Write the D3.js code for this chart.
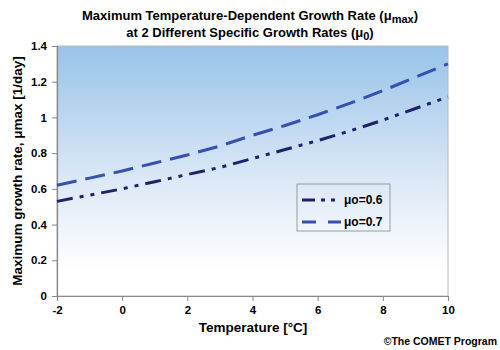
<!DOCTYPE html>
<html><head><meta charset="utf-8">
<script src="https://cdn.jsdelivr.net/npm/d3@7"></script>
<style>body{margin:0;background:#fff}svg{display:block;font-family:"Liberation Sans",Arial,sans-serif;font-weight:bold}</style>
</head><body>
<script>
const temps = [-2,-1,0,1,2,3,4,5,6,7,8,9,10];
const mu06 = [0.53,0.565,0.60,0.64,0.68,0.72,0.77,0.82,0.87,0.925,0.985,1.05,1.115];
const mu07 = [0.62,0.66,0.70,0.745,0.79,0.84,0.90,0.955,1.015,1.08,1.15,1.225,1.30];
const seriesNames = ["μo=0.6","μo=0.7"];
const xTicks = [-2,0,2,4,6,8,10];
const yTicks = [0,0.2,0.4,0.6,0.8,1,1.2,1.4];

const W=500,H=350, L=57, R=448, T=46, B=296;
const svg=d3.select("body").append("svg").attr("width",W).attr("height",H);
const x=d3.scaleLinear().domain([-2,10]).range([L,R]);
const y=d3.scaleLinear().domain([0,1.4]).range([B,T]);

const defs=svg.append("defs");
const g=defs.append("linearGradient").attr("id","bg").attr("x1",0).attr("y1",0).attr("x2",0).attr("y2",1);
g.append("stop").attr("offset","0%").attr("stop-color","#98c3e9");
g.append("stop").attr("offset","55%").attr("stop-color","#dde9f7");
g.append("stop").attr("offset","90%").attr("stop-color","#ffffff");
g.append("stop").attr("offset","100%").attr("stop-color","#ffffff");
svg.append("rect").attr("x",L).attr("y",T).attr("width",R-L).attr("height",B-T).attr("fill","url(#bg)").attr("stroke","#b8b8b8").attr("stroke-width",1);

const xa=svg.append("g").attr("transform",`translate(0,${B})`).call(d3.axisBottom(x).tickValues(xTicks).tickSize(5).tickPadding(5).tickFormat(d=>String(d)));
const ya=svg.append("g").attr("transform",`translate(${L},0)`).call(d3.axisLeft(y).tickValues(yTicks).tickSize(5).tickPadding(5).tickFormat(d=>d===0?"0":(d===1?"1":d3.format(".1f")(d))));
[xa,ya].forEach(a=>{a.select(".domain").attr("stroke","#888").attr("stroke-width",1.2);a.selectAll(".tick line").attr("stroke","#888");a.selectAll("text").attr("font-size",11.5).attr("font-weight","bold").attr("fill","#000").attr("font-family","Liberation Sans, Arial, sans-serif");});

const line=d3.line().x((d,i)=>x(temps[i])).y(d=>y(d));
const styles=[{data:mu06,color:"#1e216b",dash:"16,7,4,7,4,7"},{data:mu07,color:"#3550ae",dash:"20,9"}];
styles.forEach(s=>{
  svg.append("path").datum(s.data).attr("d",line).attr("fill","none").attr("stroke",s.color).attr("stroke-width",3).attr("stroke-dasharray",s.dash);
});

// legend
const lg=svg.append("g");
lg.append("rect").attr("x",297).attr("y",184).attr("width",93).attr("height",47).attr("fill","none").attr("stroke","#9a9a9a");
styles.forEach((s,i)=>{
  const yy=200+i*22;
  lg.append("line").attr("x1",302).attr("x2",341).attr("y1",yy).attr("y2",yy).attr("stroke",s.color).attr("stroke-width",3)
    .attr("stroke-dasharray",i===0?"13,6,4,6,4,6":"14,12");
  lg.append("text").attr("x",344).attr("y",yy+4).attr("font-size",12).text(seriesNames[i]);
});

// title
const t1=svg.append("text").attr("x",250).attr("y",20).attr("text-anchor","middle").attr("font-size",13);
t1.append("tspan").text("Maximum Temperature-Dependent Growth Rate (μ");
t1.append("tspan").attr("font-size",11).attr("dy",3).text("max");
t1.append("tspan").attr("dy",-3).text(")");
const t2=svg.append("text").attr("x",250).attr("y",37).attr("text-anchor","middle").attr("font-size",13);
t2.append("tspan").text("at 2 Different Specific Growth Rates (μ");
t2.append("tspan").attr("font-size",11).attr("dy",3).text("0");
t2.append("tspan").attr("dy",-3).text(")");

svg.append("text").attr("x",253).attr("y",332).attr("text-anchor","middle").attr("font-size",13.5).text("Temperature [°C]");
svg.append("text").attr("transform","translate(22,171) rotate(-90)").attr("text-anchor","middle").attr("font-size",13.5).text("Maximum growth rate, μmax [1/day]");
svg.append("text").attr("x",497).attr("y",345).attr("text-anchor","end").attr("font-size",10.5).text("©The COMET Program");
</script>
</body></html>
